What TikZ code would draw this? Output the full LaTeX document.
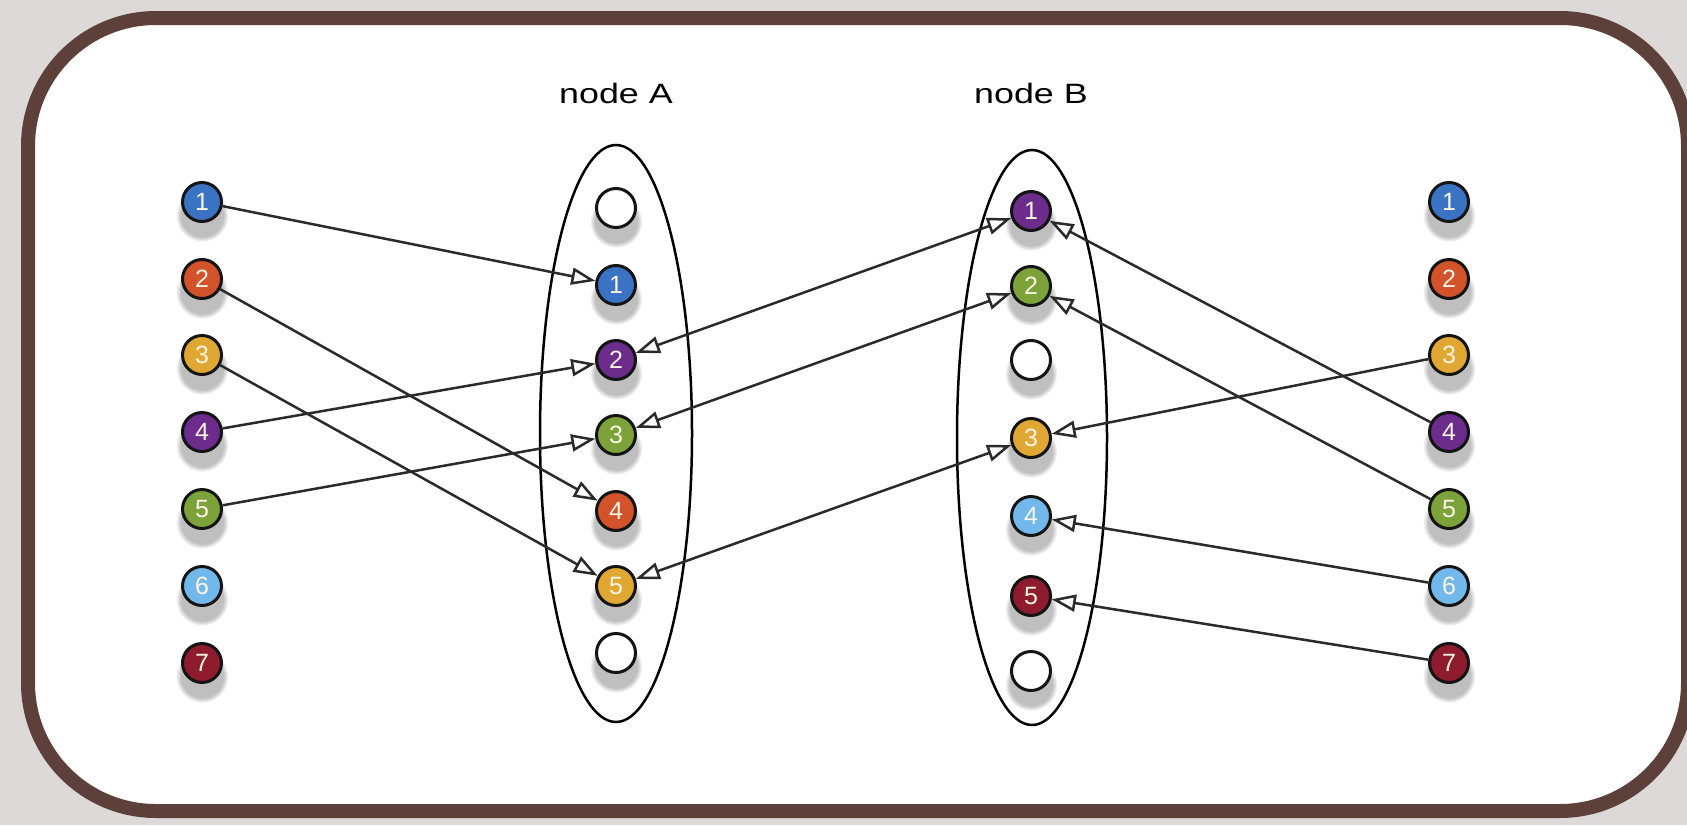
\documentclass[tikz,border=0pt]{standalone}
\usepackage{fontspec}
\usepackage{graphicx}
\setmainfont{Liberation Sans}
\usetikzlibrary{arrows.meta,shadows,fadings}
\definecolor{bgGray}{HTML}{DCD9D8}
\definecolor{frameBrown}{HTML}{5D403A}
\definecolor{lineGray}{HTML}{2A2A2A}
\definecolor{numText}{HTML}{FBF4E4}
\definecolor{cBlue}{HTML}{3B73C4}
\definecolor{cOrange}{HTML}{D2522A}
\definecolor{cYellow}{HTML}{E0A832}
\definecolor{cPurple}{HTML}{6C2C8C}
\definecolor{cGreen}{HTML}{7CA33A}
\definecolor{cLight}{HTML}{72B8EA}
\definecolor{cRed}{HTML}{8E1B2E}
\begin{document}
\begin{tikzpicture}[x=0.5pt,y=-0.5pt,
  ball/.style={circle, draw=black!92, line width=1.5pt, minimum size=19.5pt, inner sep=0pt,
    font=\fontsize{12.5}{13}\selectfont, text=numText,
    general shadow={shadow xshift=0pt, shadow yshift=-5pt, shadow scale=1.35, opacity=0.45,
      fill=black!55, path fading={circle with fuzzy edge 20 percent}}},
  link/.style={draw=lineGray, line width=1.25pt, -{Triangle[length=12pt,width=8.5pt,fill=white]}},
  dlink/.style={draw=lineGray, line width=1.25pt, {Triangle[length=12pt,width=8.5pt,fill=white]}-{Triangle[length=12pt,width=8.5pt,fill=white]}},
  hull/.style={draw=black, line width=1.25pt},
  title/.style={font=\fontsize{14}{16}\selectfont, anchor=base, text=black}
]
\useasboundingbox (0,0) rectangle (1687,825);
\clip (0,0) rectangle (1687,825);
\fill[bgGray] (0,0) rectangle (1687,825);
\draw[frameBrown, fill=white, line width=7pt, rounded corners=64pt] (28,18) rectangle (1688,811);

% containers
\draw[hull] (616,433.5) ellipse [x radius=76, y radius=288.5];
\draw[hull] (1032,437.5) ellipse [x radius=75, y radius=287.5];
\node[title] (labA) at (616,103) {\scalebox{1.28}[1]{node A}};
\node[title] (labB) at (1031,103) {\scalebox{1.28}[1]{node B}};

% left column
\node[ball, fill=cBlue]   (L1) at (202,202) {1};
\node[ball, fill=cOrange] (L2) at (202,279) {2};
\node[ball, fill=cYellow] (L3) at (202,355) {3};
\node[ball, fill=cPurple] (L4) at (202,432) {4};
\node[ball, fill=cGreen]  (L5) at (202,509) {5};
\node[ball, fill=cLight]  (L6) at (202,586) {6};
\node[ball, fill=cRed]    (L7) at (202,663) {7};

% right column
\node[ball, fill=cBlue]   (R1) at (1449,202) {1};
\node[ball, fill=cOrange] (R2) at (1449,279) {2};
\node[ball, fill=cYellow] (R3) at (1449,355) {3};
\node[ball, fill=cPurple] (R4) at (1449,432) {4};
\node[ball, fill=cGreen]  (R5) at (1449,509) {5};
\node[ball, fill=cLight]  (R6) at (1449,586) {6};
\node[ball, fill=cRed]    (R7) at (1449,663) {7};

% node A
\node[ball, fill=white]   (A0) at (616,208) {};
\node[ball, fill=cBlue]   (A1) at (616,285) {1};
\node[ball, fill=cPurple] (A2) at (616,360) {2};
\node[ball, fill=cGreen]  (A3) at (616,435) {3};
\node[ball, fill=cOrange] (A4) at (616,511) {4};
\node[ball, fill=cYellow] (A5) at (616,586) {5};
\node[ball, fill=white]   (A6) at (616,653) {};

% node B
\node[ball, fill=cPurple] (B1) at (1031,211) {1};
\node[ball, fill=cGreen]  (B2) at (1031,286) {2};
\node[ball, fill=white]   (B0) at (1031,360) {};
\node[ball, fill=cYellow] (B3) at (1031,438) {3};
\node[ball, fill=cLight]  (B4) at (1031,516) {4};
\node[ball, fill=cRed]    (B5) at (1031,596) {5};
\node[ball, fill=white]   (B6) at (1031,671) {};

% left -> A
\draw[link] (L1) -- (A1);
\draw[link] (L2) -- (A4);
\draw[link] (L3) -- (A5);
\draw[link] (L4) -- (A2);
\draw[link] (L5) -- (A3);

% A <-> B
\draw[dlink] (A2) -- (B1);
\draw[dlink] (A3) -- (B2);
\draw[dlink] (A5) -- (B3);

% right -> B
\draw[link] (R3) -- (B3);
\draw[link] (R4) -- (B1);
\draw[link] (R5) -- (B2);
\draw[link] (R6) -- (B4);
\draw[link] (R7) -- (B5);
\end{tikzpicture}
\end{document}
